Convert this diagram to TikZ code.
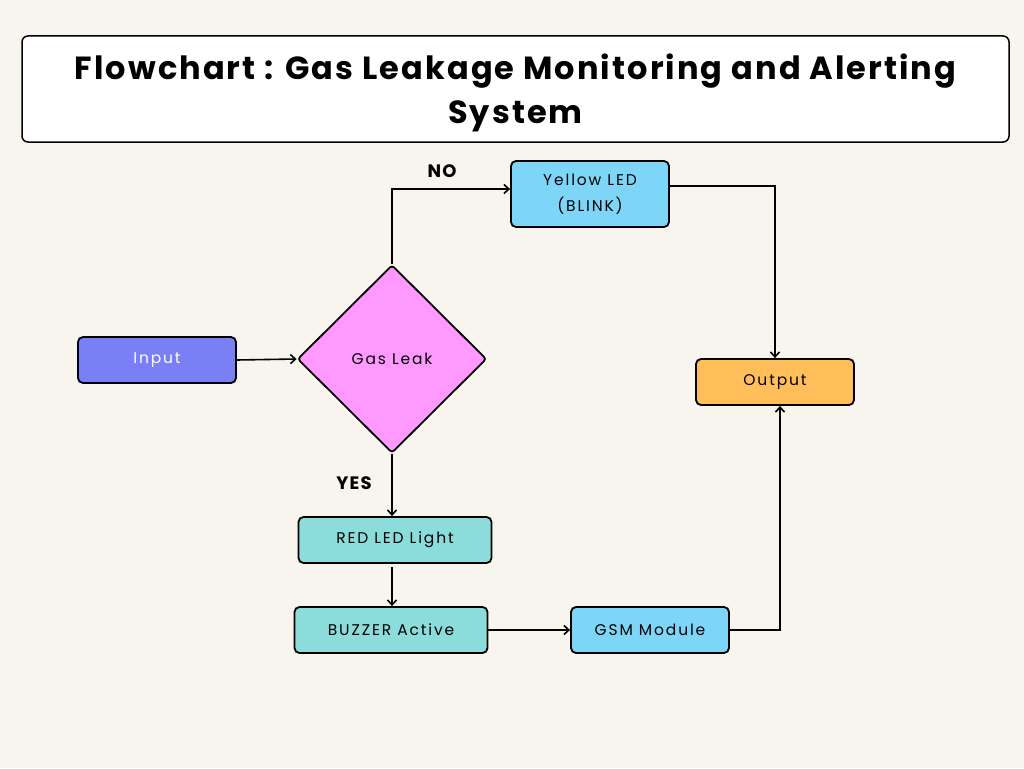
\documentclass[tikz,border=0pt]{standalone}
\usepackage{fontspec}
\setmainfont{Poppins}
\newfontfamily\boxfont[LetterSpace=12]{Poppins}
\newfontfamily\headfont[LetterSpace=6.5]{Poppins}
\usetikzlibrary{positioning, shapes.geometric, arrows.meta, calc}
\definecolor{paper}{RGB}{248,244,238}
\definecolor{inputblue}{RGB}{121,128,245}
\definecolor{leakpink}{RGB}{255,153,255}
\definecolor{ledblue}{RGB}{125,214,247}
\definecolor{outorange}{RGB}{255,190,90}
\definecolor{stepteal}{RGB}{139,220,219}

\begin{document}
\begin{tikzpicture}[x=1pt,y=-1pt,
    box/.style={draw,line width=1.8pt,rounded corners=5pt,minimum width=158pt,
      minimum height=46pt,inner sep=0pt,align=center,
      font=\boxfont\fontsize{15.5}{26}\selectfont},
    link/.style={line width=1.6pt,-{Straight Barb[length=5pt,width=9pt]}},
    tag/.style={font=\headfont\bfseries\fontsize{18}{18}\selectfont}]
    \fill[paper](0,0)rectangle(1024,768);
    \useasboundingbox(0,0)rectangle(1024,768);
    % title
    \node[draw,line width=1.5pt,rounded corners=6pt,fill=white,minimum width=987pt,
      minimum height=106pt](title) at (515.5,89) {};
    \node[align=center,font=\headfont\bfseries\fontsize{32}{44}\selectfont]
      (heading) at ([yshift=-4pt]title.center) {Flowchart : Gas Leakage Monitoring and Alerting\\System};
    % nodes
    \node[box,fill=inputblue,text=white](input) at (157,360) {Input};
    \node[draw,diamond,line width=1.8pt,rounded corners=3pt,fill=leakpink,
      minimum width=189pt,minimum height=188pt,inner sep=0pt,
      font=\boxfont\fontsize{15.5}{26}\selectfont](leak) at (392,359) {Gas Leak};
    \node[box,fill=ledblue,minimum height=66pt](yellow) at (590,194) {Yellow LED\\(BLINK)};
    \node[box,fill=outorange](output) at (775,382) {Output};
    \node[box,fill=stepteal,minimum width=193pt](red) at (395,540) {RED LED Light};
    \node[box,fill=stepteal,minimum width=193pt](buzzer) at (391,630) {BUZZER Active};
    \node[box,fill=ledblue](gsm) at (650,630) {GSM Module};
    % labels
    \node[tag](no) at (442,171) {NO};
    \node[tag](yes) at (354,483) {YES};
    % connectors
    \draw[link](input.east)--(leak.west);
    \draw[link](leak.north)|-([yshift=5pt]yellow.west);
    \draw[link](leak.south)--(leak.south|-red.north);
    \draw[link]([yshift=-3pt,xshift=-3pt]red.south)--([xshift=1pt]buzzer.north);
    \draw[link](buzzer.east)--(gsm.west);
    \draw[link](gsm.east)-|([xshift=5pt]output.south);
    \draw[link]([yshift=8pt]yellow.east)-|(output.north);
\end{tikzpicture}
\end{document}
